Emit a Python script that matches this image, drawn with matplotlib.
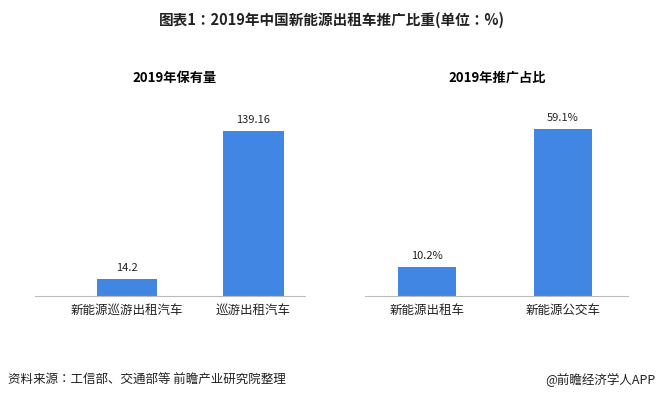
import matplotlib
matplotlib.use("Agg")
import matplotlib.pyplot as plt
from matplotlib import font_manager as fm

names = {f.name for f in fm.fontManager.ttflist}
cjk = [n for n in ["Noto Sans CJK SC", "Noto Sans CJK JP", "Noto Sans CJK TC", "Noto Sans CJK KR"] if n in names]
if not cjk:
    for p in fm.findSystemFonts():
        if "CJK" in p:
            try:
                fm.fontManager.addfont(p)
            except Exception:
                pass
    names = {f.name for f in fm.fontManager.ttflist}
    cjk = [n for n in names if "CJK" in n]
plt.rcParams["font.family"] = cjk + ["DejaVu Sans"]

left_cats = ["新能源巡游出租汽车", "巡游出租汽车"]
left_vals = [14.2, 139.16]
left_labels = ["14.2", "139.16"]
right_cats = ["新能源出租车", "新能源公交车"]
right_vals = [10.2, 59.1]
right_labels = ["10.2%", "59.1%"]

W, H = 663, 401
fig = plt.figure(figsize=(W/100, H/100), dpi=100)
color = "#4286E3"

def panel(rect, cats, vals, labels, xlim, width, ytop, title, title_x):
    ax = fig.add_axes([rect[0]/W, 1-(rect[1]+rect[3])/H, rect[2]/W, rect[3]/H])
    x = list(range(len(cats)))
    ax.bar(x, vals, width=width, color=color)
    for xi, v, l in zip(x, vals, labels):
        ax.text(xi, v + ytop*0.03, l, ha="center", va="bottom", fontsize=8, color="#222222")
    ax.set_xlim(*xlim)
    ax.set_ylim(0, ytop)
    ax.set_xticks(x)
    ax.set_xticklabels(cats, fontsize=9, color="#222222")
    ax.tick_params(axis="x", length=0, pad=6)
    ax.set_yticks([])
    for s in ["top", "right", "left"]:
        ax.spines[s].set_visible(False)
    ax.spines["bottom"].set_color("#bbbbbb")
    fig.text(title_x/W, 1-78/H, title, ha="center", va="center", fontsize=9.5, fontweight="bold")

panel([35, 100, 270, 196], left_cats, left_vals, left_labels, (-0.73, 1.41), 0.48, 165, "2019年保有量", 175)
panel([365, 100, 263, 196], right_cats, right_vals, right_labels, (-0.456, 1.478), 0.43, 69.4, "2019年推广占比", 497)

fig.text(0.5, 1-20/H, "图表1：2019年中国新能源出租车推广比重(单位：%)", ha="center", va="center",
         fontsize=10.5, fontweight="bold", color="#222222")
fig.text(8/W, 1-380/H, "资料来源：工信部、交通部等 前瞻产业研究院整理", ha="left", va="center", fontsize=9, color="#222222")
fig.text(655/W, 1-380/H, "@前瞻经济学人APP", ha="right", va="center", fontsize=9, color="#222222")

fig.savefig("out.png", dpi=100)
